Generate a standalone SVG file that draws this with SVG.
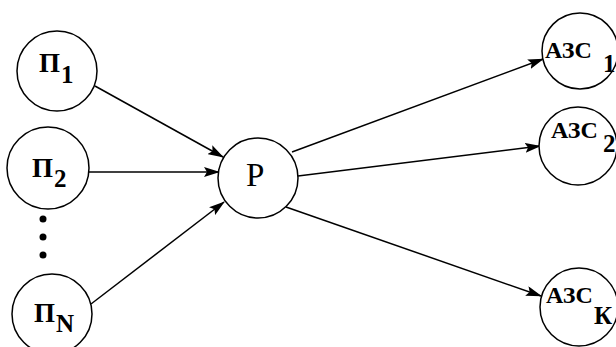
<svg xmlns="http://www.w3.org/2000/svg" width="616" height="347" viewBox="0 0 616 347">
<defs>
<style>
.node{fill:#fff;stroke:#000;stroke-width:1.5}
.edge{fill:none;stroke:#000;stroke-width:1.5}
.lbl{font-family:"Liberation Serif","Times New Roman",serif;font-weight:bold;font-size:27px;fill:#000}
.azs{font-size:24px}
.sub{font-size:25px}
.big{font-family:"Liberation Serif","Times New Roman",serif;font-size:33px;fill:#000}
</style>
<marker id="arr" viewBox="0 0 16 10" refX="15" refY="5" markerWidth="16" markerHeight="10" markerUnits="userSpaceOnUse" orient="auto">
<path d="M0,0 L16,5 L0,10 L3,5 z" fill="#000"/>
</marker>
</defs>
<rect width="616" height="347" fill="#fff"/>
<g id="connectors">
<line class="edge" x1="95" y1="86" x2="223" y2="157" marker-end="url(#arr)"/>
<line class="edge" x1="89" y1="172" x2="219" y2="172" marker-end="url(#arr)"/>
<line class="edge" x1="91" y1="304" x2="224" y2="202" marker-end="url(#arr)"/>
<line class="edge" x1="292" y1="152" x2="543" y2="59" marker-end="url(#arr)"/>
<line class="edge" x1="298" y1="176" x2="540" y2="146" marker-end="url(#arr)"/>
<line class="edge" x1="286" y1="207" x2="541" y2="296" marker-end="url(#arr)"/>
</g>
<g id="dots">
<circle cx="43" cy="219" r="3.5" fill="#000"/>
<circle cx="43" cy="237" r="3.5" fill="#000"/>
<circle cx="43" cy="255" r="3.5" fill="#000"/>
</g>
<g id="p1">
<circle class="node" cx="57" cy="71" r="40"/>
<text class="lbl"><tspan x="39" y="72">П</tspan><tspan class="sub" x="61" y="83">1</tspan></text>
</g>
<g id="p2">
<circle class="node" cx="48" cy="168" r="41"/>
<text class="lbl"><tspan x="32" y="177">П</tspan><tspan class="sub" x="54" y="187">2</tspan></text>
</g>
<g id="pN">
<circle class="node" cx="52" cy="314" r="40"/>
<text class="lbl"><tspan x="34" y="322">П</tspan><tspan class="sub" x="56" y="332">N</tspan></text>
</g>
<g id="r">
<circle class="node" cx="258" cy="178" r="40"/>
<text class="big" x="246" y="186">Р</text>
</g>
<g id="azs1">
<circle class="node" cx="580" cy="51" r="38"/>
<text class="lbl"><tspan class="azs" x="545" y="58">АЗС</tspan><tspan class="sub" x="603" y="72">1</tspan></text>
</g>
<g id="azs2">
<circle class="node" cx="578" cy="146" r="39"/>
<text class="lbl"><tspan class="azs" x="551" y="138">АЗС</tspan><tspan class="sub" x="603" y="152">2</tspan></text>
</g>
<g id="azsK">
<circle class="node" cx="579" cy="307" r="39"/>
<text class="lbl"><tspan class="azs" x="546" y="303" font-size="23">АЗС</tspan><tspan class="sub" x="594" y="324">К</tspan></text>
</g>
</svg>
